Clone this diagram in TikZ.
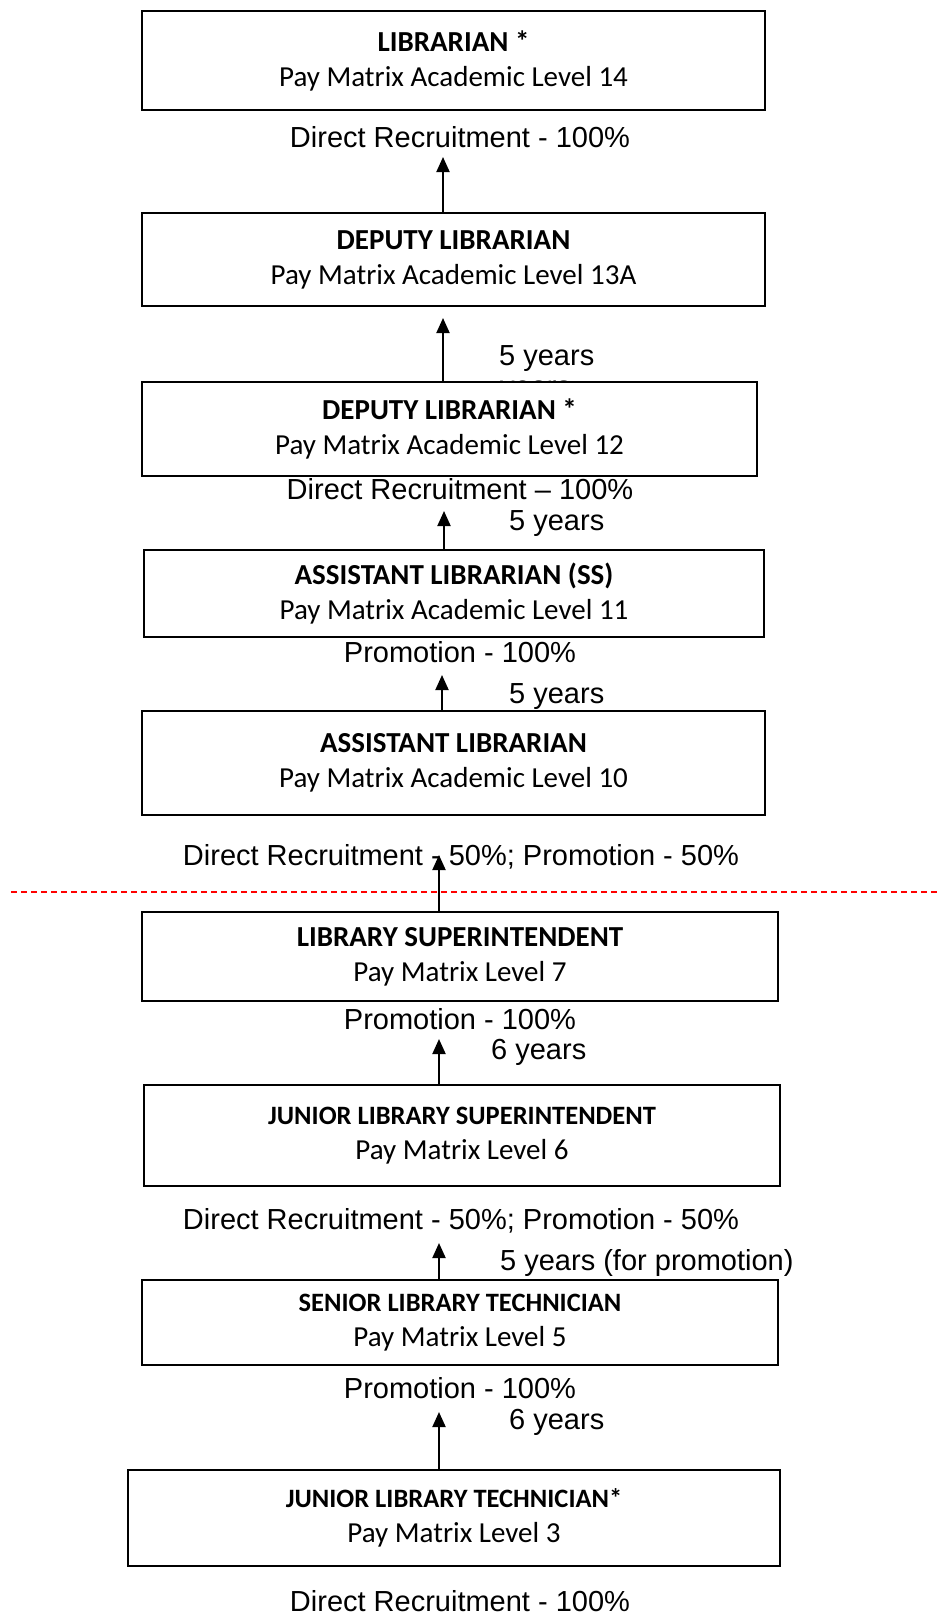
\documentclass[tikz,border=0pt]{standalone}
\usepackage{fontspec}
\setmainfont{Liberation Sans}
\newfontfamily\boxfont{Carlito}
\usetikzlibrary{arrows.meta}

\begin{document}
\begin{tikzpicture}[x=1pt, y=-1pt,
    post/.style={draw, line width=2pt, rectangle, fill=white, inner sep=0pt, align=center,
      font=\boxfont\fontsize{29}{35}\selectfont},
    small/.style={font=\boxfont\fontsize{29}{35}\selectfont},
    note/.style={anchor=base, inner sep=0pt, font=\fontsize{29}{35}\selectfont},
    yrs/.style={note, anchor=base west},
    arr/.style={line width=2pt, -{Stealth[length=15pt, width=13pt, inset=0pt]}}]
  \useasboundingbox (0,0) rectangle (940,1617);

  % academic posts
  \node[post, minimum width=623, minimum height=99] (lib) at (453.5,60.5) {\textbf{LIBRARIAN *}\\Pay Matrix Academic Level 14};
  \node[note] (lbDR) at (460,147) {Direct Recruitment - 100\%};

  \node[post, minimum width=623, minimum height=93] (dlib) at (453.5,259.5) {\textbf{DEPUTY LIBRARIAN}\\Pay Matrix Academic Level 13A};
  \node[yrs] (yDlib) at (499,365) {5 years};
  \node[yrs] (yGhost) at (500,396) {years};

  \node[post, minimum width=615, minimum height=94] (dlibS) at (449.5,429) {\textbf{DEPUTY LIBRARIAN *}\\Pay Matrix Academic Level 12};
  \node[note] (dlDR) at (460,499) {Direct Recruitment -- 100\%};
  \node[yrs] (yDlibS) at (509,530) {5 years};

  \node[post, minimum width=620, minimum height=87] (alibSS) at (454,593.5) {\textbf{ASSISTANT LIBRARIAN (SS)}\\Pay Matrix Academic Level 11};
  \node[note] (alPr) at (460,662) {Promotion - 100\%};
  \node[yrs] (yAlib) at (509,703) {5 years};

  \node[post, minimum width=623, minimum height=104] (alib) at (453.5,763) {\textbf{ASSISTANT LIBRARIAN}\\Pay Matrix Academic Level 10};
  \node[note] (alDR) at (461,865) {Direct Recruitment - 50\%; Promotion - 50\%};

  % separator
  \coordinate (sepL) at (11,892);
  \coordinate (sepR) at (940,892);
  \draw[red, line width=2pt, dash pattern=on 6pt off 4pt] (sepL) -- (sepR);

  % non-academic posts
  \node[post, minimum width=636, minimum height=89] (ls) at (460,956.5) {\textbf{LIBRARY SUPERINTENDENT}\\Pay Matrix Level 7};
  \node[note] (lsPr) at (460,1029) {Promotion - 100\%};
  \node[yrs] (yJls) at (491,1059) {6 years};

  \node[post, minimum width=636, minimum height=101] (jls) at (462,1135.5) {{\fontsize{26.5}{35}\selectfont\bfseries JUNIOR LIBRARY SUPERINTENDENT}\\Pay Matrix Level 6};
  \node[note] (jlsDR) at (461,1229) {Direct Recruitment - 50\%; Promotion - 50\%};
  \node[yrs] (ySlt) at (500,1270) {5 years (for promotion)};

  \node[post, minimum width=636, minimum height=85] (slt) at (460,1322.5) {{\fontsize{26.5}{35}\selectfont\bfseries SENIOR LIBRARY TECHNICIAN}\\Pay Matrix Level 5};
  \node[note] (sltPr) at (460,1398) {Promotion - 100\%};
  \node[yrs] (yJlt) at (509,1429) {6 years};

  \node[post, minimum width=652, minimum height=96] (jlt) at (454,1518) {{\fontsize{26.5}{35}\selectfont\bfseries JUNIOR LIBRARY TECHNICIAN*}\\Pay Matrix Level 3};
  \node[note] (jltDR) at (460,1611) {Direct Recruitment - 100\%};

  % arrow tips
  \coordinate (t1) at (443,157);
  \coordinate (t2) at (443,318);
  \coordinate (t3) at (444,511);
  \coordinate (t4) at (442,675);
  \coordinate (t5) at (439,855);
  \coordinate (t6) at (439,1039);
  \coordinate (t7) at (439,1243);
  \coordinate (t8) at (439,1412);

  \path[arr] (dlib.north -| t1) edge (t1);
  \path[arr] (dlibS.north -| t2) edge (t2);
  \path[arr] (alibSS.north -| t3) edge (t3);
  \path[arr] (alib.north -| t4) edge (t4);
  \path[arr] (ls.north -| t5) edge (t5);
  \path[arr] (jls.north -| t6) edge (t6);
  \path[arr] (slt.north -| t7) edge (t7);
  \path[arr] (jlt.north -| t8) edge (t8);
\end{tikzpicture}
\end{document}
